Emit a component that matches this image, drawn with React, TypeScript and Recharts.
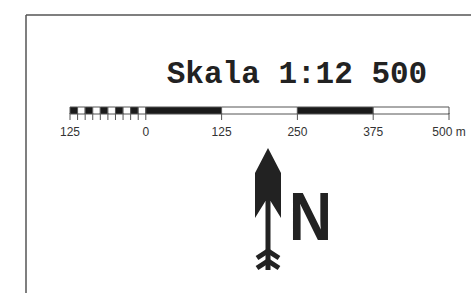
import React from "react";
import { ComposedChart, XAxis, YAxis, ReferenceArea, Customized } from "recharts";

const segmentStarts = [-125, -112.5, -100, -87.5, -75, -62.5, -50, -37.5, -25, -12.5, 0, 125, 250, 375];
const segmentEnds = [-112.5, -100, -87.5, -75, -62.5, -50, -37.5, -25, -12.5, 0, 125, 250, 375, 500];
const segmentFills = ["#1a1a1a", "#ffffff", "#1a1a1a", "#ffffff", "#1a1a1a", "#ffffff", "#1a1a1a", "#ffffff", "#1a1a1a", "#ffffff", "#1a1a1a", "#ffffff", "#1a1a1a", "#ffffff"];
const majorTicks = [-125, 0, 125, 250, 375, 500];
const majorLabels = ["125", "0", "125", "250", "375", "500 m"];
const minorTicks = [-112.5, -100, -87.5, -75, -62.5, -50, -37.5, -25, -12.5];
const titleText = "Skala 1:12 500";
const northLabel = "N";

const allTicks = [...majorTicks, ...minorTicks].sort((a, b) => a - b);
const chartData = [
  { x: -125, y: 0 },
  { x: 500, y: 1 },
];

const ScaleTick = (props: any) => {
  const { x, y, payload } = props;
  const idx = majorTicks.indexOf(payload.value);
  return (
    <g>
      <line x1={x} x2={x} y1={y - 1} y2={y + 6} stroke="#555" strokeWidth={1} />
      {idx >= 0 && (
        <text
          x={x}
          y={y + 22}
          textAnchor="middle"
          fontSize={12}
          fontFamily="Liberation Sans"
          fill="#333"
          style={{ whiteSpace: "pre" }}
        >
          {majorLabels[idx]}
        </text>
      )}
    </g>
  );
};

const Decorations = () => (
  <g>
    <line x1={26} y1={15} x2={471} y2={15} stroke="#555" strokeWidth={1.5} />
    <line x1={26} y1={15} x2={26} y2={293} stroke="#555" strokeWidth={1.5} />
    <text
      x={297}
      y={83}
      textAnchor="middle"
      fontSize={31}
      fontWeight="bold"
      fontFamily="Liberation Mono"
      fill="#222"
      style={{ whiteSpace: "pre" }}
    >
      {titleText}
    </text>
    <g fill="#222" stroke="none">
      <polygon points="268,148 281,173 281,218 270.5,201 265.5,201 255,218 255,173" />
      <rect x={265.5} y={195} width={5} height={75} />
    </g>
    <g fill="none" stroke="#222" strokeWidth={5} strokeLinejoin="miter">
      <polyline points="257,258 268,251 279,258" />
      <polyline points="257,268 268,261 279,268" />
    </g>
    <text
      x={289}
      y={240}
      fontSize={69}
      fontWeight="bold"
      fontFamily="Liberation Sans"
      fill="#222"
      textLength={43}
      lengthAdjust="spacingAndGlyphs"
    >
      {northLabel}
    </text>
  </g>
);

export default function App() {
  return (
    <div style={{ position: "absolute", left: 0, top: 0, width: 471, height: 293, background: "#fff" }}>
      <ComposedChart
        width={471}
        height={293}
        data={chartData}
        margin={{ top: 107, right: 22, bottom: 0, left: 70 }}
      >
        <XAxis
          type="number"
          dataKey="x"
          domain={[-125, 500]}
          ticks={allTicks}
          interval={0}
          axisLine={false}
          tickLine={false}
          tickSize={0}
          tickMargin={0}
          height={179}
          tick={<ScaleTick />}
          allowDataOverflow
        />
        <YAxis type="number" dataKey="y" domain={[0, 1]} hide allowDataOverflow />
        {segmentStarts.map((s, i) => (
          <ReferenceArea
            key={i}
            x1={s}
            x2={segmentEnds[i]}
            y1={0}
            y2={1}
            fill={segmentFills[i]}
            fillOpacity={1}
            stroke="#555"
            strokeWidth={1}
            ifOverflow="visible"
          />
        ))}
        <Customized component={Decorations} />
      </ComposedChart>
    </div>
  );
}
